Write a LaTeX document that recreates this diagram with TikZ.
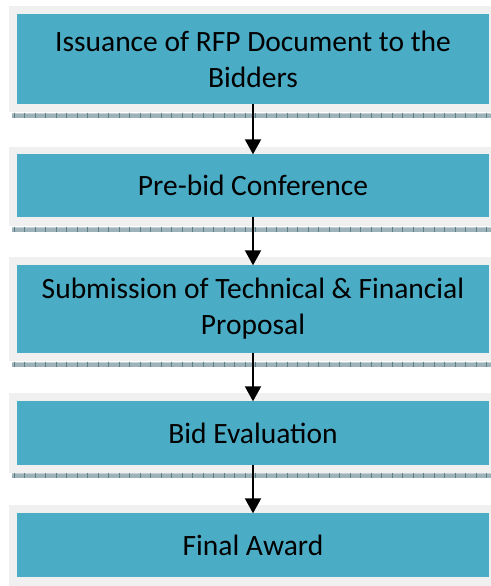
\documentclass[tikz,border=0pt]{standalone}
\usepackage{fontspec}
\setmainfont{Carlito}
\usetikzlibrary{arrows.meta}
\definecolor{teal}{HTML}{4BACC6}
\definecolor{framegray}{HTML}{F0F0F0}
\definecolor{hatchbase}{HTML}{9DB3B9}
\definecolor{hatchtick}{HTML}{5F7F88}
\definecolor{hatchtop}{HTML}{C5D2D5}
\tikzset{
  x=1pt, y=-1pt,
  stepbox/.style={fill=teal, draw=none, inner sep=0pt, minimum width=472pt,
    align=center, font=\fontsize{29.5}{36}\selectfont, text=black},
  frame/.style={fill=framegray},
  arr/.style={line width=2pt, -{Triangle[length=15pt,width=16pt]}, shorten >=-0.5pt, shorten <=-0.5pt},
}
\newcommand{\hatchband}[2]{%
  \fill[hatchbase] (12,#1) rectangle (492,#2);
  \draw[hatchtop, line width=0.8pt] (12,#1+0.4) -- (492,#1+0.4);
  \foreach \hx in {14,24.5,...,492} {\draw[hatchtick, line width=0.6pt] (\hx,#1) -- (\hx,#2);}
}
\begin{document}
\begin{tikzpicture}
\useasboundingbox (0,0) rectangle (490,586);
% frames
\fill[frame] (9,6) rectangle (492,112);
\fill[frame] (9,147) rectangle (492,226);
\fill[frame] (9,257) rectangle (492,361);
\fill[frame] (9,393) rectangle (492,473);
\fill[frame] (9,505) rectangle (492,590);
% hatched shadow bands
\hatchband{112.5}{117.5}
\hatchband{227}{232}
\hatchband{361.5}{366.5}
\hatchband{473}{478}
% boxes
\node[stepbox, minimum height=90pt] (b1) at (253,59) {Issuance of RFP Document to the\\Bidders};
\node[stepbox, minimum height=63pt] (b2) at (253,185.5) {Pre-bid Conference};
\node[stepbox, minimum height=88pt] (b3) at (253,309) {Submission of Technical \& Financial\\Proposal};
\node[stepbox, minimum height=64pt] (b4) at (253,433) {Bid Evaluation};
\node[stepbox, minimum height=64pt] (b5) at (253,545) {Final Award};
% arrows
\draw[arr] (b1) -- (b2);
\draw[arr] (b2) -- (b3);
\draw[arr] (b3) -- (b4);
\draw[arr] (b4) -- (b5);
\end{tikzpicture}
\end{document}
